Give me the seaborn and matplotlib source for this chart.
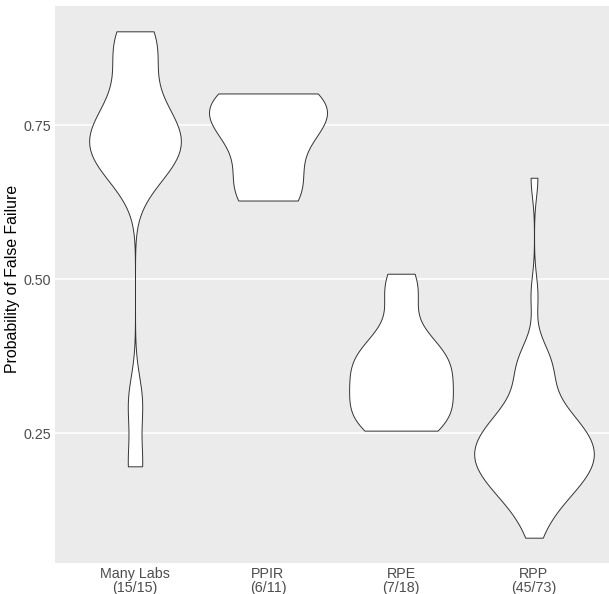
import numpy as np
import pandas as pd
import seaborn as sns
import matplotlib.pyplot as plt

# probability of false failure, one value per replication study
studies = ["Many Labs\n(15/15)", "PPIR\n(6/11)", "RPE\n(7/18)", "RPP\n(45/73)"]
many_labs = [0.196, 0.30, 0.66, 0.68, 0.70, 0.71, 0.72, 0.73, 0.75, 0.76,
             0.78, 0.82, 0.86, 0.89, 0.903]
ppir = [0.628, 0.665, 0.735, 0.765, 0.785, 0.802]
rpe = [0.254, 0.256, 0.263, 0.272, 0.282, 0.292, 0.302, 0.313, 0.324, 0.335,
       0.346, 0.356, 0.365, 0.374, 0.383, 0.393, 0.404, 0.463, 0.486, 0.509]
rpp = [0.080, 0.108, 0.123, 0.134, 0.143, 0.150, 0.157, 0.163, 0.168, 0.174,
       0.178, 0.183, 0.188, 0.192, 0.196, 0.200, 0.204, 0.208, 0.212, 0.216,
       0.220, 0.224, 0.228, 0.232, 0.236, 0.240, 0.244, 0.249, 0.254, 0.258,
       0.264, 0.269, 0.275, 0.282, 0.289, 0.298, 0.309, 0.324, 0.352, 0.345,
       0.360, 0.375, 0.390, 0.475, 0.665]
groups = [many_labs, ppir, rpe, rpp]
y_ticks = [0.25, 0.50, 0.75]
y_ticklabels = ["0.25", "0.50", "0.75"]

# max width of each violin (category units)
violin_widths = [0.69, 0.887, 0.78, 0.90]

df = pd.DataFrame({
    "study": np.repeat(studies, [len(g) for g in groups]),
    "prob": np.concatenate(groups),
})


# R's bw.nrd0 rule, as a factor for scipy's gaussian_kde
def nrd0(kde):
    x = kde.dataset[0]
    sd = x.std(ddof=1)
    q1, q3 = np.percentile(x, [25, 75])
    h = 0.9 * min(sd, (q3 - q1) / 1.34) * len(x) ** -0.2
    return h / sd


sns.set_style("white")
plt.rcParams["font.family"] = ["Liberation Sans", "DejaVu Sans"]

fig = plt.figure(figsize=(6.09, 5.94), dpi=100)
# panel runs a little past the right edge of the image, as in the original
ax = fig.add_axes([55.2 / 609, 1 - 563 / 594, 558.6 / 609, 557 / 594])
ax.set_facecolor("#EBEBEB")

for name, w in zip(studies, violin_widths):
    sns.violinplot(data=df[df["study"] == name], x="study", y="prob",
                   order=studies, cut=0, width=w, density_norm="width",
                   inner=None, color="white", saturation=1,
                   linecolor="#333333", linewidth=0.7, bw_method=nrd0, ax=ax)

lo, hi = df["prob"].min(), df["prob"].max()
pad = 0.05 * (hi - lo)
ax.set_ylim(lo - pad, hi + pad)
ax.set_xlim(-0.6, len(studies) - 0.4)

ax.set_yticks(y_ticks)
ax.set_yticklabels(y_ticklabels)
ax.yaxis.grid(True, color="white", linewidth=1.1)
ax.xaxis.grid(False)
ax.set_axisbelow(True)
for s in ax.spines.values():
    s.set_visible(False)

ax.tick_params(axis="both", length=0, labelsize=10.3, labelcolor="#4D4D4D")
ax.tick_params(axis="y", pad=3)
ax.tick_params(axis="x", pad=3)
for t in ax.get_xticklabels():
    t.set_linespacing(0.95)

ax.set_xlabel("")
ax.set_ylabel("Probability of False Failure", fontsize=11.4, color="black")
ax.yaxis.set_label_coords(-0.063, 0.51)

fig.savefig("out.png", dpi=100)
